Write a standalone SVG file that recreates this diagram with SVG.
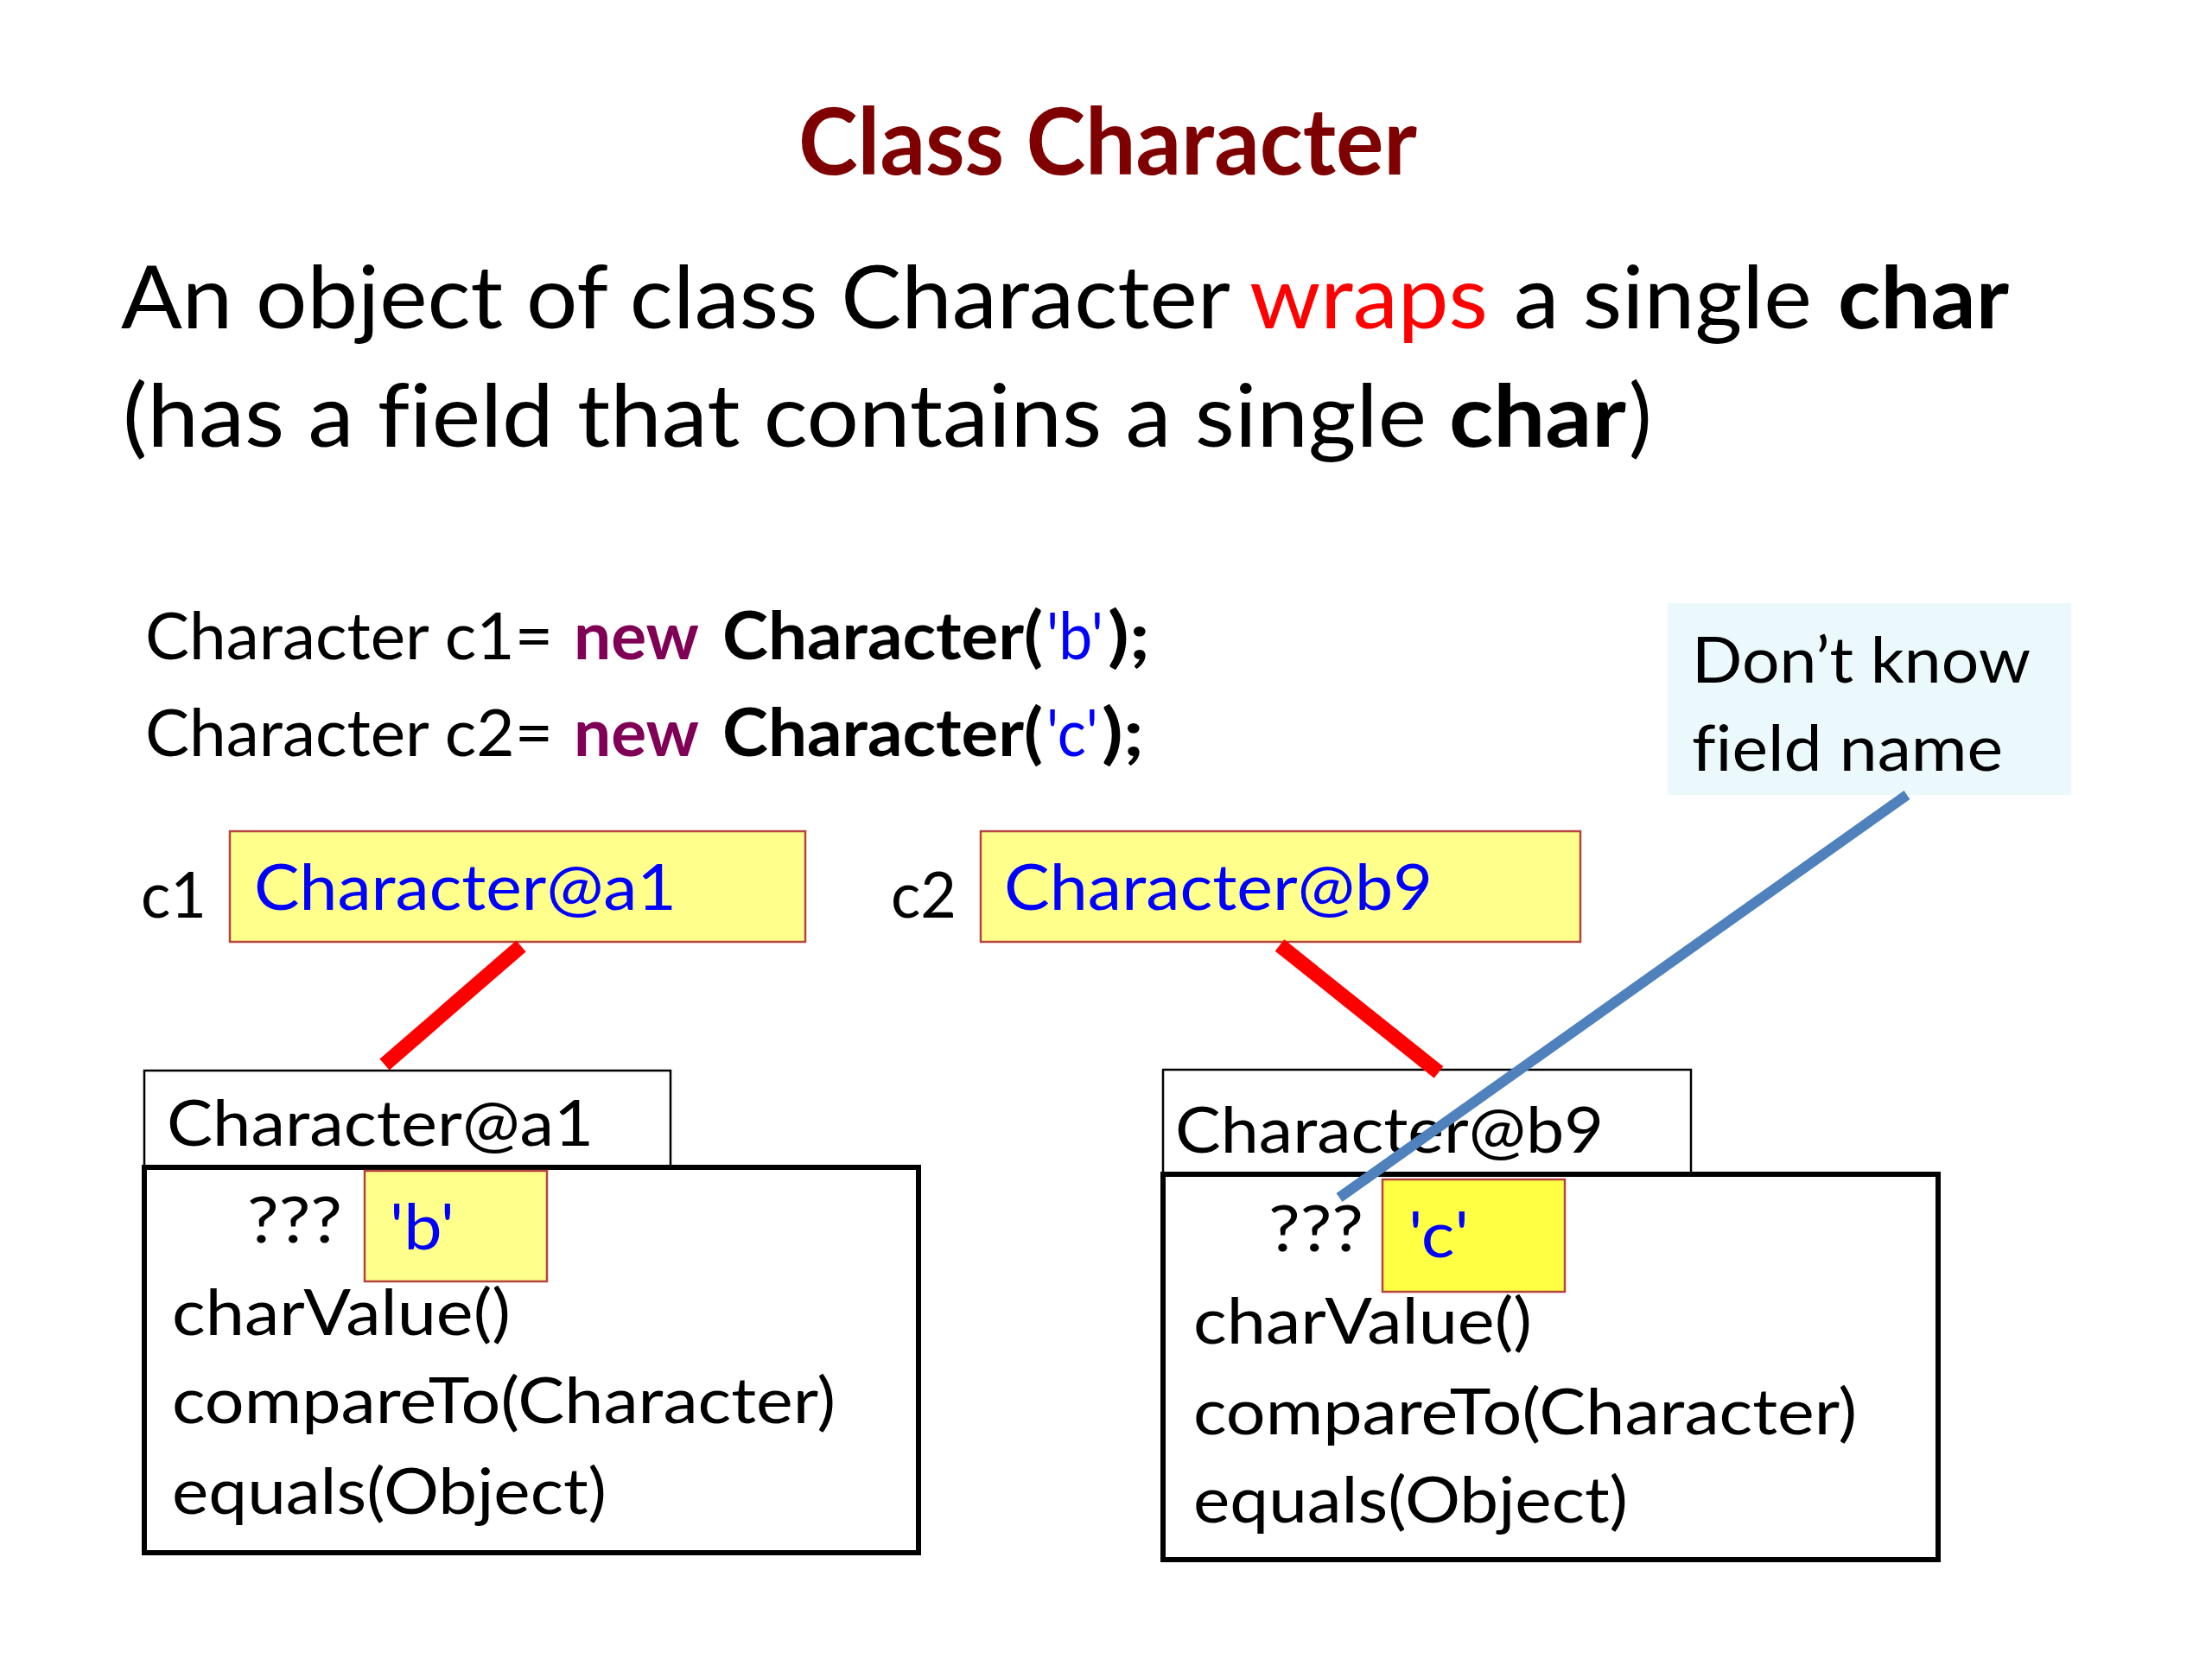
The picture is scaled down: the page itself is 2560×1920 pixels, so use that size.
<svg xmlns="http://www.w3.org/2000/svg" width="2560" height="1920" viewBox="0 0 2560 1920">
<style>
text{font-family:Lato,"Open Sans","Liberation Sans",sans-serif;fill:#000;font-variant-ligatures:none}
.t{font-size:100px}
.code{font-size:76px}
.obj{font-size:74px}
.b{font-weight:bold}
.blue{fill:#0000FF}
.ref{fill:#FFFF8C;stroke:#B5443F;stroke-width:2.5}
.hdr{fill:#fff;stroke:#000;stroke-width:2.5}
.body{fill:#fff;stroke:#000;stroke-width:6}
.red{stroke:#FF0000;stroke-width:17;fill:none}
.bl{stroke:#4F81BD;stroke-width:12;fill:none}
</style>
<rect width="2560" height="1920" fill="#fff"/>
<g id="title">
<text x="924" y="202" font-size="107" class="b" style="fill:#7F0000" textLength="716" lengthAdjust="spacingAndGlyphs">Class Character</text>
</g>
<g id="desc">
<text x="140" y="380" class="t" textLength="1284" lengthAdjust="spacingAndGlyphs">An object of class Character</text>
<text x="1446" y="380" class="t" style="fill:#FF0000" textLength="276" lengthAdjust="spacingAndGlyphs">wraps</text>
<text x="1752" y="380" class="t" textLength="345" lengthAdjust="spacingAndGlyphs">a single</text>
<text x="2127" y="380" class="t b" textLength="198" lengthAdjust="spacingAndGlyphs">char</text>
<text x="142" y="517" class="t" textLength="1509" lengthAdjust="spacingAndGlyphs">(has a field that contains a single</text>
<text x="1677" y="517" class="t b" textLength="205" lengthAdjust="spacingAndGlyphs">char</text>
<text x="1885" y="517" class="t">)</text>
</g>
<g id="code">
<text x="168" y="763" class="code" textLength="472" lengthAdjust="spacingAndGlyphs">Character c1=</text>
<text x="664" y="763" class="code b" style="fill:#7F0055" textLength="145" lengthAdjust="spacingAndGlyphs">new</text>
<text x="836" y="763" class="code b" textLength="371" lengthAdjust="spacingAndGlyphs">Character(</text>
<text x="1211" y="763" class="code blue" textLength="66" lengthAdjust="spacingAndGlyphs">'b'</text>
<text x="1282" y="763" class="code b" textLength="49" lengthAdjust="spacingAndGlyphs">);</text>
<text x="168" y="875" class="code" textLength="472" lengthAdjust="spacingAndGlyphs">Character c2=</text>
<text x="664" y="875" class="code b" style="fill:#7F0055" textLength="145" lengthAdjust="spacingAndGlyphs">new</text>
<text x="836" y="875" class="code b" textLength="371" lengthAdjust="spacingAndGlyphs">Character(</text>
<text x="1211" y="875" class="code blue" textLength="60" lengthAdjust="spacingAndGlyphs">'c'</text>
<text x="1275" y="875" class="code b" textLength="49" lengthAdjust="spacingAndGlyphs">);</text>
</g>
<g id="callout">
<rect x="1930" y="698" width="467" height="222" fill="#EBF9FC"/>
<text x="1958" y="790" class="obj" textLength="392" lengthAdjust="spacingAndGlyphs">Don’t know</text>
<text x="1958" y="892" class="obj" textLength="360" lengthAdjust="spacingAndGlyphs">field name</text>
</g>
<g id="c1">
<text x="163" y="1062" class="obj" textLength="76" lengthAdjust="spacingAndGlyphs">c1</text>
<rect x="266" y="962" width="666" height="128" class="ref"/>
<text x="294" y="1053" class="obj blue" textLength="489" lengthAdjust="spacingAndGlyphs">Character@a1</text>
</g>
<g id="c2">
<text x="1031" y="1062" class="obj" textLength="76" lengthAdjust="spacingAndGlyphs">c2</text>
<rect x="1135" y="962" width="694" height="128" class="ref"/>
<text x="1162" y="1053" class="obj blue" textLength="496" lengthAdjust="spacingAndGlyphs">Character@b9</text>
</g>
<g id="obj1">
<rect x="167" y="1239" width="609" height="112" class="hdr"/>
<text x="193" y="1326" class="obj" textLength="494" lengthAdjust="spacingAndGlyphs">Character@a1</text>
<rect x="167" y="1351" width="896" height="446" class="body"/>
<text x="286" y="1438" class="obj" textLength="110" lengthAdjust="spacingAndGlyphs">???</text>
<rect x="422" y="1355" width="211" height="128" class="ref"/>
<text x="451" y="1446" class="obj blue" textLength="75" lengthAdjust="spacingAndGlyphs">'b'</text>
<text x="199" y="1545" class="obj" textLength="392" lengthAdjust="spacingAndGlyphs">charValue()</text>
<text x="199" y="1647" class="obj" textLength="768" lengthAdjust="spacingAndGlyphs">compareTo(Character)</text>
<text x="199" y="1752" class="obj" textLength="503" lengthAdjust="spacingAndGlyphs">equals(Object)</text>
</g>
<g id="obj2">
<rect x="1346" y="1238" width="611" height="120" class="hdr"/>
<text x="1360" y="1334" class="obj" textLength="496" lengthAdjust="spacingAndGlyphs">Character@b9</text>
<rect x="1346" y="1359" width="897" height="446" class="body"/>
<text x="1468" y="1448" class="obj" textLength="110" lengthAdjust="spacingAndGlyphs">???</text>
<rect x="1600" y="1365" width="211" height="130" class="ref" style="fill:#FFFF44"/>
<text x="1630" y="1455" class="obj blue" textLength="70" lengthAdjust="spacingAndGlyphs">'c'</text>
<text x="1381" y="1555" class="obj" textLength="392" lengthAdjust="spacingAndGlyphs">charValue()</text>
<text x="1381" y="1660" class="obj" textLength="768" lengthAdjust="spacingAndGlyphs">compareTo(Character)</text>
<text x="1381" y="1762" class="obj" textLength="503" lengthAdjust="spacingAndGlyphs">equals(Object)</text>
</g>
<g id="connectors">
<line x1="603" y1="1095" x2="445" y2="1232" class="red"/>
<line x1="1481" y1="1094" x2="1665" y2="1241" class="red"/>
<line x1="2207" y1="920" x2="1550" y2="1386" class="bl"/>
</g>
</svg>
